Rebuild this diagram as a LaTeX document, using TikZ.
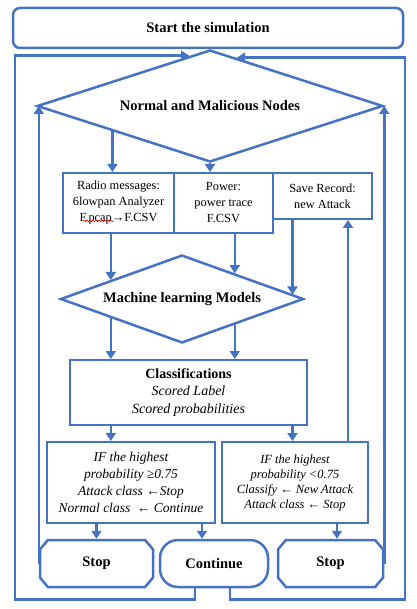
\documentclass[tikz,border=0pt]{standalone}
\usepackage{fontspec}
\setmainfont{Liberation Serif}
\usetikzlibrary{arrows.meta,shapes.geometric,shapes.misc,calc,decorations.pathmorphing}
\definecolor{flowblue}{RGB}{68,114,196}

\begin{document}
\begin{tikzpicture}[x=1pt, y=-1pt,
  line/.style={draw=flowblue, line width=2.5pt},
  arr/.style={line, -{Triangle[width=10pt,length=8pt]}},
  box/.style={draw=flowblue, line width=2pt, align=center, inner sep=0pt},
  rhombus/.style={diamond, shape aspect=2.8, draw=flowblue, line width=2.5pt, inner sep=0pt, font=\bfseries\fontsize{14.5}{17}\selectfont},
  term/.style={draw=flowblue, line width=2.5pt, inner sep=0pt, font=\bfseries\fontsize{14.5}{17}\selectfont},
  octa/.style={term, chamfered rectangle, chamfered rectangle xsep=10pt, chamfered rectangle angle=40},
  smalltext/.style={font=\fontsize{12.4}{16}\selectfont},
]
\useasboundingbox (0,0) rectangle (416,609);

% start and first decision
\node[term, rounded corners=7pt, minimum width=390pt, minimum height=40pt] (start) at (208,28) {Start the simulation};
\node[rhombus, minimum width=346pt, minimum height=112pt] (nmn) at (210,106) {Normal and Malicious Nodes};

% data boxes
\node[box, smalltext, minimum width=111pt, minimum height=60pt] (radio) at (118.5,203) {Radio messages:\\ 6lowpan Analyzer\\ F.pcap→F.CSV};
\node[box, smalltext, minimum width=99pt, minimum height=60pt] (power) at (223.5,203) {Power:\\ power trace\\ F.CSV};
\node[box, smalltext, minimum width=99pt, minimum height=46pt] (save) at (322.5,196) {Save Record:\\ new Attack};
\draw[red, line width=0.6pt, decorate, decoration={snake, amplitude=0.7pt, segment length=3pt}] (83,221) -- (114,221);

% second decision and classification
\node[rhombus, minimum width=243pt, minimum height=88pt] (mlm) at (182,299) {Machine learning Models};
\node[box, minimum width=237pt, minimum height=65pt, font=\fontsize{14}{17.5}\selectfont\itshape] (cls) at (188.5,392.5) {{\upshape\bfseries Classifications}\\ Scored Label\\ Scored probabilities};

% rules
\node[box, minimum width=168pt, minimum height=81pt, font=\fontsize{13.5}{17}\selectfont\itshape] (hi) at (131,482.5) {IF the highest\\ probability ≥0.75\\ Attack class ←Stop\\ Normal class \ ← Continue};
\node[box, minimum width=146pt, minimum height=81pt, font=\fontsize{12.5}{15}\selectfont\itshape] (lo) at (295,482.5) {IF the highest\\ probability <0.75\\ Classify ← New Attack\\ Attack class ← Stop};

% terminals
\node[octa, minimum width=113pt, minimum height=47pt] (stopA) at (96.5,563.5) {Stop};
\node[term, rounded corners=18pt, minimum width=108pt, minimum height=47pt] (cont) at (214,563.5) {Continue};
\node[octa, minimum width=105pt, minimum height=47pt] (stopB) at (330.5,563.5) {Stop};

% points on the diamond edges
\coordinate (n1) at ($(nmn.west)!0.44!(nmn.south)$);
\coordinate (t1) at ($(nmn.north)!0.12!(nmn.west)$);
\coordinate (t2) at ($(nmn.north)!0.155!(nmn.east)$);
\coordinate (m1) at ($(mlm.west)!0.42!(mlm.north)$);
\coordinate (m2) at ($(mlm.north)!0.43!(mlm.east)$);
\coordinate (m3) at ($(mlm.east)!0.1!(mlm.north)$);
\coordinate (m4) at ($(mlm.west)!0.42!(mlm.south)$);
\coordinate (m5) at ($(mlm.south)!0.43!(mlm.east)$);
\coordinate (c1) at ([xshift=-12pt]cont.north);
\coordinate (c2) at ([xshift=6.5pt]stopB.north);
\coordinate (u1) at ([xshift=53pt]lo.north);
\coordinate (w1) at (15,0);
\coordinate (e1) at (405,0);

% arrows down
\draw[arr] (n1) -- (n1 |- radio.north);
\draw[arr] (nmn.south) -- (nmn.south |- power.north);
\draw[arr] (m1 |- radio.south) -- (m1);
\draw[arr] (m2 |- power.south) -- (m2);
\draw[arr] (m3 |- save.south) -- (m3);
\draw[arr] (m4) -- (m4 |- cls.north);
\draw[arr] (m5) -- (m5 |- cls.north);
\draw[arr] (m4 |- cls.south) -- (m4 |- hi.north);
\draw[arr] (m3 |- cls.south) -- (m3 |- lo.north);
\draw[arr] (stopA.north |- hi.south) -- (stopA.north);
\draw[arr] (c1 |- hi.south) -- (c1);
\draw[arr] (c2 |- lo.south) -- (c2);

% loops back up
\draw[arr] (u1) -- (u1 |- save.south);
\draw[arr] (stopA.west) -- (stopA.west |- nmn.west);
\draw[arr] (stopB.east) -- (stopB.east |- nmn.east);
\draw[arr] ([xshift=-19pt]cont.south) -- ++(0,11) -| (w1 |- t1) -- (t1);
\draw[arr] ([xshift=16pt]cont.south) -- ++(0,11) -| (e1 |- t2) -- (t2);

\end{tikzpicture}
\end{document}
